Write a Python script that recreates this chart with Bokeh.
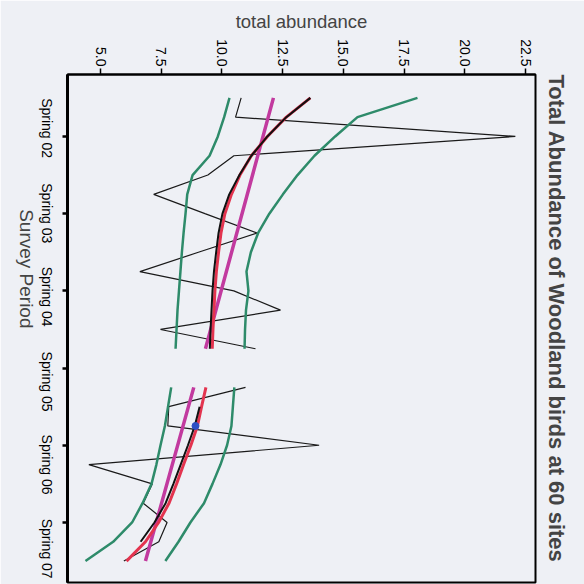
import math
from bokeh.plotting import figure
from bokeh.models import (Range1d, FixedTicker, LinearAxis, NumeralTickFormatter, Title,
                          CustomLabelingPolicy)
from bokeh.embed import file_html
from bokeh.resources import INLINE

nan = float("nan")

# survey quarters (0 = first survey), gap between the two survey blocks
quarter = list(range(0, 25))
observed = [10.79, 10.56, 22.08, 10.49, 9.42, 7.19, 9.30, 11.45, 9.03, 6.62, 10.49, 12.41, 7.47, 11.38, nan,
            10.97, 7.81, 7.77, 14.00, 4.52, 7.13, 6.76, 7.74, 7.40, 5.96]
lower = [10.31, 10.09, 9.83, 9.49, 8.79, 8.57, 8.50, 8.42, 8.35, 8.29, 8.23, 8.17, 8.13, 8.09, nan,
         7.91, 7.78, 7.65, 7.47, 7.30, 7.10, 6.73, 6.30, 5.52, 4.38]
upper = [18.05, 15.58, 14.66, 13.81, 13.11, 12.51, 11.95, 11.49, 11.19, 11.01, 11.09, 10.99, 10.95, 10.93, nan,
         10.51, 10.45, 10.39, 10.21, 9.94, 9.61, 9.26, 8.70, 8.21, 7.67]
smooth = [13.64, 12.65, 11.87, 11.21, 10.74, 10.39, 10.12, 9.96, 9.86, 9.77, 9.71, 9.67, 9.63, 9.60, nan,
          9.34, 9.16, 8.99, 8.72, 8.42, 8.13, 7.82, 7.39, 6.85, 6.07]
fitted = [13.64, 12.65, 11.87, 11.21, 10.72, 10.30, 10.02, 9.86, 9.76, 9.67, 9.61, 9.57, 9.53, 9.50, nan,
          nan, 9.08, 8.88, 8.60, 8.30, 8.00, 7.68, 7.22, 6.65, nan]
trend_quarter = [0, 13, nan, 15, 24]
trend = [12.12, 9.32, nan, 8.84, 6.85]
marker_quarter = [17]
marker = [8.91]

abundance_ticks = [5.0, 7.5, 10.0, 12.5, 15.0, 17.5, 20.0, 22.5]
period_ticks = [2, 6, 10, 14, 18, 22]
# label anchors (labels end at these quarters when read top-to-bottom)
period_label_pos = [3.12, 7.53, 11.85, 16.25, 20.55, 24.91]
period_labels = ["Spring 02", "Spring 03", "Spring 04", "Spring 05", "Spring 06", "Spring 07"]

FONT = "Liberation Sans"
BG = "#eef0f5"

p = figure(width=584, height=584,
           x_range=Range1d(3.64, 22.91), y_range=Range1d(25.11, -1.21),
           x_axis_location="above", y_axis_location="left",
           output_backend="svg", toolbar_location=None,
           min_border_left=67, min_border_top=74, min_border_right=49, min_border_bottom=2,
           background_fill_color=BG, border_fill_color=BG)
p.xgrid.visible = False
p.ygrid.visible = False
p.outline_line_color = "black"
p.outline_line_width = 2

xa = p.xaxis[0]
xa.ticker = FixedTicker(ticks=abundance_ticks, minor_ticks=[])
xa.formatter = NumeralTickFormatter(format="0.0")
xa.major_label_orientation = -math.pi / 2
xa.major_label_text_font = FONT
xa.major_label_text_font_size = "14px"
xa.major_label_text_color = "black"
xa.major_label_standoff = 2
xa.major_tick_out = 6
xa.major_tick_in = 0
xa.major_tick_line_width = 1.5
xa.axis_line_width = 2
xa.axis_label = "total abundance"
xa.axis_label_text_font = FONT
xa.axis_label_text_font_size = "18.5px"
xa.axis_label_text_font_style = "normal"
xa.axis_label_standoff = 4

ya = p.yaxis[0]
ya.ticker = FixedTicker(ticks=period_ticks, minor_ticks=[])
ya.major_label_policy = CustomLabelingPolicy(
    code="for (const i of Array.from(indices)) { indices.set(i, false) }\nreturn indices")
ya.major_label_text_font_size = "1px"
ya.major_label_standoff = 0
ya.major_tick_out = 5
ya.major_tick_in = 0
ya.major_tick_line_width = 2.5
ya.axis_line_width = 3

yb = LinearAxis(ticker=FixedTicker(ticks=period_label_pos, minor_ticks=[]),
                major_label_overrides={pos: lab for pos, lab in zip(period_label_pos, period_labels)},
                axis_line_color=None, major_tick_line_color=None, minor_tick_line_color=None,
                major_label_orientation=-math.pi / 2,
                major_label_text_font=FONT, major_label_text_font_size="14px",
                major_label_text_color="black", major_label_standoff=6,
                axis_label="Survey Period", axis_label_text_font=FONT,
                axis_label_text_font_size="19px", axis_label_text_font_style="normal",
                axis_label_standoff=1)
if "axis_label_orientation" in yb.properties():
    yb.axis_label_orientation = -math.pi / 2
p.add_layout(yb, "left")

title = Title(text="Total Abundance of Woodland birds at 60 sites", align="left",
              text_font=FONT, text_font_size="22px", text_font_style="bold", standoff=16)
p.add_layout(title, "right")

GREEN = "#2e8b6a"
p.line(observed, quarter, line_color="#1a1a1a", line_width=1.2)
p.line(lower, quarter, line_color=GREEN, line_width=2.5)
p.line(upper, quarter, line_color=GREEN, line_width=2.5)
p.line(trend, trend_quarter, line_color="#c23a9f", line_width=3.5)
p.line(smooth, quarter, line_color="#e3344f", line_width=3)
p.line(fitted, quarter, line_color="#111111", line_width=2)
p.scatter(marker, marker_quarter, size=7, fill_color="#2d4fc4", line_color="#2d4fc4")

open("out.html", "w").write(file_html(p, INLINE))
